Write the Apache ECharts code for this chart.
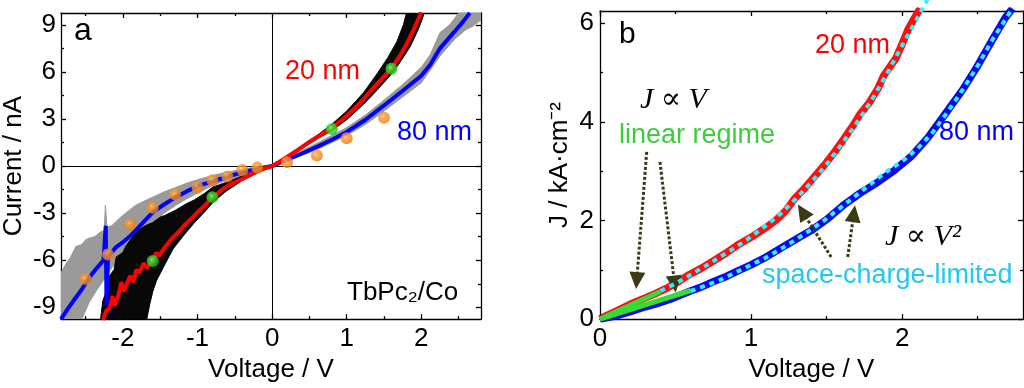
<!DOCTYPE html>
<html><head><meta charset="utf-8">
<script src="https://cdn.jsdelivr.net/npm/echarts@6/dist/echarts.min.js"></script>
<style>html,body{margin:0;padding:0;background:#fff}#c{width:1024px;height:388px}</style>
</head><body><div id="c"></div>
<script>
// ---------- Panel a: tick values ----------
const A_X_MAJOR = [-2, -1, 0, 1, 2];
const A_X_MINOR = [-2.5, -1.5, -0.5, 0.5, 1.5, 2.5];
const A_Y_MAJOR = [-9, -6, -3, 0, 3, 6, 9];
const A_Y_MINOR = [-7.5, -4.5, -1.5, 1.5, 4.5, 7.5];
// ---------- Panel b: tick values ----------
const B_X_MAJOR = [0, 1, 2];
const B_X_MINOR = [0.5, 1.5, 2.5];
const B_Y_MAJOR = [0, 2, 4, 6];
const B_Y_MINOR = [1, 3, 5];

// ---------- Panel a data: I (nA) vs V (V) ----------
const RED_A = [[-2.27,-9.81],[-2.22,-9.2],[-2.18,-9.08],[-2.14,-8.3],[-2.11,-8.9],[-2.06,-8.2],[-2.02,-7.4],[-1.99,-8.0],[-1.96,-7.62],[-1.9,-7.0],[-1.86,-7.4],[-1.82,-6.6],[-1.78,-6.79],[-1.72,-6.2],[-1.68,-6.5],[-1.6,-6.05],[-1.55,-5.5],[-1.52,-5.75],[-1.43,-5.12],[-1.34,-4.6],[-1.25,-4.18],[-1.16,-3.7],[-1.08,-3.34],[-0.99,-2.9],[-0.9,-2.51],[-0.81,-2.05],[-0.72,-1.7],[-0.63,-1.36],[-0.52,-1.08],[-0.41,-0.84],[-0.3,-0.55],[-0.19,-0.31],[-0.1,-0.14],[0,0],[0.1,0.28],[0.21,0.62],[0.35,1.05],[0.48,1.48],[0.64,1.95],[0.79,2.4],[0.95,3.0],[1.10,3.65],[1.23,4.3],[1.36,5.0],[1.48,5.6],[1.6,6.22],[1.71,7.0],[1.81,7.83],[1.9,8.7],[2.0,9.8]];
const BLUE_A = [[-2.83,-9.75],[-2.74,-9.1],[-2.65,-8.5],[-2.55,-7.85],[-2.45,-7.1],[-2.35,-6.5],[-2.26,-6.0],[-2.23,-3.8],[-2.22,-8.9],[-2.2,-5.8],[-2.1,-5.2],[-2.0,-4.85],[-1.91,-4.49],[-1.8,-3.95],[-1.7,-3.45],[-1.6,-2.95],[-1.45,-2.45],[-1.29,-1.98],[-1.14,-1.6],[-0.98,-1.25],[-0.8,-0.97],[-0.63,-0.73],[-0.47,-0.5],[-0.32,-0.31],[-0.15,-0.14],[0,0],[0.2,0.4],[0.4,0.8],[0.6,1.22],[0.8,1.68],[1.0,2.17],[1.25,2.95],[1.5,3.86],[1.75,4.8],[2.0,5.75],[2.12,6.45],[2.25,7.5],[2.36,8.1],[2.47,8.7],[2.56,9.2],[2.65,9.75]];
// raw-trace envelopes (upper / lower edges)
const GRAY_NEG_UP = [[-2.83,-6.8],[-2.76,-6.2],[-2.7,-5.8],[-2.63,-5.12],[-2.55,-5.0],[-2.5,-4.7],[-2.45,-4.59],[-2.38,-4.5],[-2.3,-4.2],[-2.25,-4.1],[-2.235,-2.5],[-2.215,-3.9],[-2.15,-3.8],[-2.05,-3.34],[-1.95,-2.95],[-1.83,-2.5],[-1.7,-2.2],[-1.6,-1.98],[-1.45,-1.65],[-1.29,-1.36],[-1.15,-1.1],[-0.98,-0.84],[-0.8,-0.6],[-0.63,-0.42],[-0.4,-0.2],[-0.23,-0.08],[0,0.08]];
const GRAY_NEG_LO = [[-2.83,-9.75],[-2.55,-9.75],[-2.45,-8.66],[-2.35,-7.9],[-2.25,-7.2],[-2.15,-6.5],[-2.05,-5.74],[-1.95,-5.2],[-1.83,-4.7],[-1.7,-4.1],[-1.6,-3.65],[-1.45,-3.0],[-1.29,-2.5],[-1.15,-2.1],[-0.98,-1.67],[-0.8,-1.25],[-0.63,-0.94],[-0.4,-0.6],[-0.23,-0.36],[0,-0.08]];
const GRAY_POS_UP = [[0,0.08],[0.3,0.75],[0.6,1.45],[1.0,2.45],[1.25,3.25],[1.5,4.2],[1.75,5.2],[2.0,6.3],[2.12,7.1],[2.25,8.5],[2.38,9.0],[2.5,9.75],[2.8,9.75]];
const GRAY_POS_LO = [[0,-0.08],[0.3,0.5],[0.6,1.05],[1.0,1.95],[1.25,2.65],[1.5,3.5],[1.75,4.4],[2.0,5.3],[2.25,7.0],[2.45,8.1],[2.6,8.7],[2.69,8.9],[2.8,9.3]];
const BLACK_NEG_UP = [[-2.30,-9.75],[-2.27,-8.6],[-2.24,-8.2],[-2.2,-7.6],[-2.18,-7.0],[-2.12,-6.6],[-2.09,-5.8],[-2.0,-5.5],[-1.96,-5.1],[-1.87,-4.5],[-1.80,-4.1],[-1.70,-3.8],[-1.60,-3.6],[-1.5,-3.25],[-1.44,-3.15],[-1.29,-2.8],[-1.15,-2.4],[-1.04,-2.15],[-0.9,-1.72],[-0.80,-1.35],[-0.63,-1.06],[-0.41,-0.65],[-0.2,-0.31],[0,0.05]];
const BLACK_NEG_LO = [[-2.30,-9.75],[-1.68,-9.75],[-1.64,-8.8],[-1.60,-8.0],[-1.55,-7.3],[-1.43,-6.2],[-1.33,-5.3],[-1.2,-4.5],[-1.04,-3.6],[-0.9,-2.9],[-0.8,-2.35],[-0.63,-1.65],[-0.41,-0.95],[-0.2,-0.45],[0,-0.05]];
const BLACK_POS_UP = [[0,0.05],[0.3,0.95],[0.6,1.95],[0.79,2.62],[1.0,3.5],[1.23,4.7],[1.41,5.9],[1.55,6.9],[1.67,7.9],[1.76,9.0],[1.8,9.75]];
const BLACK_POS_LO = [[0,-0.05],[0.3,0.8],[0.6,1.72],[0.79,2.22],[1.0,2.95],[1.23,3.95],[1.4,4.8],[1.58,5.75],[1.7,6.5],[1.85,7.6],[1.95,8.6],[2.0,9.2],[2.04,9.75]];
const ORANGE_V = [-2.5,-2.2,-1.9,-1.6,-1.3,-1.0,-0.8,-0.6,-0.4,-0.2,0.2,0.6,1.0,1.5];
const ORANGE_I = [-7.2,-5.64,-3.72,-2.65,-1.82,-1.36,-0.9,-0.67,-0.25,-0.1,0.25,0.67,1.77,3.07];
const GREEN_V = [-1.6,-0.8,0.8,1.6];
const GREEN_I = [-6.05,-1.98,2.36,6.2];

// ---------- Panel b data: J (kA/cm2) vs V ----------
const RED_B = [[0,0],[0.05,0.08],[0.1,0.15],[0.2,0.3],[0.3,0.43],[0.37,0.52],[0.45,0.64],[0.52,0.76],[0.59,0.9],[0.67,1.03],[0.75,1.18],[0.83,1.33],[0.92,1.52],[1.0,1.66],[1.1,1.86],[1.17,2.02],[1.23,2.2],[1.29,2.45],[1.35,2.64],[1.4,2.82],[1.5,3.18],[1.56,3.42],[1.62,3.68],[1.68,3.95],[1.72,4.15],[1.78,4.38],[1.84,4.68],[1.88,4.95],[1.92,5.12],[1.96,5.3],[2.0,5.58],[2.04,5.88],[2.08,6.1],[2.12,6.3]];
const BLUE_B = [[0,0],[0.1,0.06],[0.2,0.15],[0.3,0.25],[0.37,0.31],[0.48,0.42],[0.59,0.56],[0.67,0.65],[0.75,0.76],[0.84,0.87],[0.92,0.99],[1.0,1.1],[1.1,1.26],[1.23,1.5],[1.32,1.66],[1.4,1.8],[1.5,2.02],[1.62,2.33],[1.72,2.55],[1.84,2.78],[1.95,3.02],[2.06,3.3],[2.17,3.68],[2.28,4.14],[2.4,4.65],[2.5,5.14],[2.6,5.68],[2.68,6.1],[2.73,6.3]];
const CYAN_20 = [[0.4,0.57],[0.5,0.72],[0.6,0.9],[0.7,1.08],[0.8,1.27],[0.9,1.46],[1.0,1.67],[1.1,1.9],[1.2,2.15],[1.3,2.45],[1.4,2.78],[1.5,3.14],[1.6,3.55],[1.7,3.98],[1.8,4.45],[1.9,4.98],[2.0,5.55],[2.1,6.1],[2.17,6.5]];
const CYAN_80 = [[0.6,0.57],[0.7,0.68],[0.8,0.8],[0.9,0.95],[1.0,1.1],[1.1,1.25],[1.2,1.43],[1.3,1.62],[1.4,1.82],[1.5,2.04],[1.6,2.28],[1.7,2.52],[1.8,2.76],[1.9,3.0],[2.0,3.2],[2.1,3.45],[2.2,3.78],[2.3,4.2],[2.4,4.65],[2.5,5.14],[2.6,5.68],[2.73,6.3]];
const GREEN_B20 = [[0,0],[0.4,0.56]];
const GREEN_B80 = [[0,0],[0.6,0.58]];
const ARROWS_B = [[[0.309,3.39],[0.243,0.78]],[[0.397,3.19],[0.494,0.71]],[[1.53,1.26],[1.34,2.18]],[[1.64,1.26],[1.68,2.14]]];

const FONT = "'Liberation Sans', Arial, sans-serif";
const SERIF = "'Liberation Serif', 'DejaVu Serif', serif";

function axisSet(gi, isX, min, max, major, minor, name, nameGap, labelMargin) {
  const pos = isX ? ['bottom', 'top'] : ['left', 'right'];
  const base = { gridIndex: gi, type: 'value', min: min, max: max, splitLine: { show: false }, silent: true };
  const line = { show: true, onZero: false, lineStyle: { color: '#000', width: 1.3 } };
  const noLine = { show: false, onZero: false };
  const ts = { color: '#000', width: 1.3 };
  return [
    Object.assign({}, base, { position: pos[0], axisLine: line,
      axisTick: { show: true, inside: true, length: 5, customValues: major, lineStyle: ts },
      axisLabel: { show: true, customValues: major, margin: labelMargin, color: '#000', fontSize: 26, fontFamily: FONT },
      name: name, nameLocation: 'middle', nameGap: nameGap,
      nameTextStyle: { color: '#000', fontSize: 26, fontFamily: FONT } }),
    Object.assign({}, base, { position: pos[0], axisLine: noLine,
      axisTick: { show: true, inside: true, length: 3, customValues: minor, lineStyle: ts },
      axisLabel: { show: false } }),
    Object.assign({}, base, { position: pos[1], axisLine: line,
      axisTick: { show: true, inside: true, length: 5, customValues: major, lineStyle: ts },
      axisLabel: { show: false } }),
    Object.assign({}, base, { position: pos[1], axisLine: noLine,
      axisTick: { show: true, inside: true, length: 3, customValues: minor, lineStyle: ts },
      axisLabel: { show: false } })
  ];
}

function band(upper, lower, color, z) {
  const pts = upper.concat(lower.slice().reverse());
  return {
    type: 'custom', xAxisIndex: 0, yAxisIndex: 0, z: z, silent: true, clip: true,
    data: pts,
    renderItem: function (params, api) {
      if (params.dataIndex !== 0) return null;
      const poly = pts.map(function (p) { return api.coord(p); });
      return { type: 'polygon', shape: { points: poly },
        style: { fill: color, stroke: color, lineWidth: 1 } };
    }
  };
}

function zip(a, b) { return a.map(function (v, i) { return [v, b[i]]; }); }

const orangeFill = { type: 'radial', x: 0.4, y: 0.38, r: 0.6,
  colorStops: [{ offset: 0, color: '#ffc98a' }, { offset: 0.3, color: '#ff9a2e' }, { offset: 1, color: '#ea7c12' }] };
const greenFill = { type: 'radial', x: 0.4, y: 0.38, r: 0.6,
  colorStops: [{ offset: 0, color: '#c8ffc0' }, { offset: 0.3, color: '#38f038' }, { offset: 1, color: '#12c012' }] };

const ARROW_COLOR = '#3a3a16';

const xAxes = axisSet(0, true, -2.83, 2.8, A_X_MAJOR, A_X_MINOR, 'Voltage / V', 34, 7)
  .concat(axisSet(1, true, 0, 2.8, B_X_MAJOR, B_X_MINOR, 'Voltage / V', 35, 7));
const yAxes = axisSet(0, false, -9.75, 9.75, A_Y_MAJOR, A_Y_MINOR, 'Current / nA', 34, 5)
  .concat(axisSet(1, false, 0, 6.25, B_Y_MAJOR, B_Y_MINOR, 'J / kA·cm⁻²', 27, 6));

function txt(x, y, s, color, size, family, italic) {
  return { type: 'text', x: x, y: y, z: 100, silent: true,
    style: { text: s, fill: color, font: (italic ? 'italic ' : '') + size + 'px ' + family,
      textAlign: 'left', textVerticalAlign: 'middle', align: 'left', verticalAlign: 'middle' } };
}

const option = {
  animation: false,
  backgroundColor: '#fff',
  grid: [
    { left: 58, top: 13, width: 423, height: 311 },
    { left: 600, top: 11, width: 423, height: 312 }
  ],
  xAxis: xAxes,
  yAxis: yAxes,
  series: [
    // crosshair in panel a
    { type: 'line', xAxisIndex: 0, yAxisIndex: 0, data: [[0, 0]], showSymbol: false, symbolSize: 0,
      lineStyle: { opacity: 0 }, z: 1, silent: true,
      markLine: { silent: true, symbol: ['none', 'none'], label: { show: false },
        lineStyle: { color: '#000', width: 1, type: 'solid' },
        data: [{ xAxis: 0 }, { yAxis: 0 }] } },
    band(GRAY_NEG_UP, GRAY_NEG_LO, '#9a9a9a', 2),
    band(GRAY_POS_UP, GRAY_POS_LO, '#9a9a9a', 2),
    band(BLACK_NEG_UP, BLACK_NEG_LO, '#080808', 3),
    band(BLACK_POS_UP, BLACK_POS_LO, '#080808', 3),
    { type: 'line', xAxisIndex: 0, yAxisIndex: 0, data: BLUE_A, showSymbol: false, z: 4,
      lineStyle: { color: '#0000ff', width: 4 }, silent: true },
    { type: 'line', xAxisIndex: 0, yAxisIndex: 0, data: RED_A, showSymbol: false, z: 5,
      lineStyle: { color: '#ff0000', width: 4 }, silent: true },
    { type: 'scatter', xAxisIndex: 0, yAxisIndex: 0, data: zip(ORANGE_V, ORANGE_I), symbolSize: 12, z: 6,
      itemStyle: { color: orangeFill }, silent: true },
    { type: 'scatter', xAxisIndex: 0, yAxisIndex: 0, data: zip(GREEN_V, GREEN_I), symbolSize: 12, z: 6,
      itemStyle: { color: greenFill }, silent: true },

    // panel b
    { type: 'line', xAxisIndex: 4, yAxisIndex: 4, data: RED_B, showSymbol: false, z: 3,
      lineStyle: { color: '#ff1010', width: 7.5 }, silent: true },
    { type: 'line', xAxisIndex: 4, yAxisIndex: 4, data: BLUE_B, showSymbol: false, z: 3,
      lineStyle: { color: '#0a0aee', width: 7.5 }, silent: true },
    { type: 'line', xAxisIndex: 4, yAxisIndex: 4, data: GREEN_B20, showSymbol: false, z: 4,
      lineStyle: { color: '#33dd33', width: 5 }, silent: true },
    { type: 'line', xAxisIndex: 4, yAxisIndex: 4, data: GREEN_B80, showSymbol: false, z: 4,
      lineStyle: { color: '#33dd33', width: 5 }, silent: true },
    { type: 'line', xAxisIndex: 4, yAxisIndex: 4, data: CYAN_20, showSymbol: false, z: 5, clip: false,
      lineStyle: { color: '#2ff0ff', width: 4, type: [5, 5] }, silent: true },
    { type: 'line', xAxisIndex: 4, yAxisIndex: 4, data: CYAN_80, showSymbol: false, z: 5,
      lineStyle: { color: '#2ff0ff', width: 4, type: [5, 5] }, silent: true },
    { type: 'line', xAxisIndex: 4, yAxisIndex: 4, data: [[0, 0]], showSymbol: false, symbolSize: 0,
      lineStyle: { opacity: 0 }, z: 8, silent: true,
      markLine: { silent: true, symbol: ['none', 'triangle'], symbolSize: [16, 17], label: { show: false },
        lineStyle: { color: ARROW_COLOR, width: 3, type: [3, 2] },
        itemStyle: { color: ARROW_COLOR },
        data: ARROWS_B.map(function (a) { return [{ coord: a[0] }, { coord: a[1] }]; }) } }
  ],
  graphic: [
    txt(74, 31, 'a', '#000', 32, FONT),
    txt(285, 71.6, '20 nm', '#ff0000', 27, FONT),
    txt(397, 132.6, '80 nm', '#0000ff', 27, FONT),
    txt(347, 292.6, 'TbPc₂/Co', '#000', 26, FONT),
    txt(619, 34.6, 'b', '#000', 30, FONT),
    txt(815, 45.6, '20 nm', '#ff0000', 27, FONT),
    txt(939, 132.6, '80 nm', '#0000ff', 27, FONT),
    txt(619, 135.6, 'linear regime', '#3ccc3c', 27, FONT),
    txt(762, 275.6, 'space-charge-limited', '#22c8f0', 27, FONT),
    txt(640, 99.9, 'J ∝ V', '#000', 30, SERIF, true),
    txt(885, 237.6, 'J ∝ V²', '#000', 30, SERIF, true)
  ]
};

const chart = echarts.init(document.getElementById('c'), null, { renderer: 'canvas' });
chart.setOption(option);
</script></body></html>
